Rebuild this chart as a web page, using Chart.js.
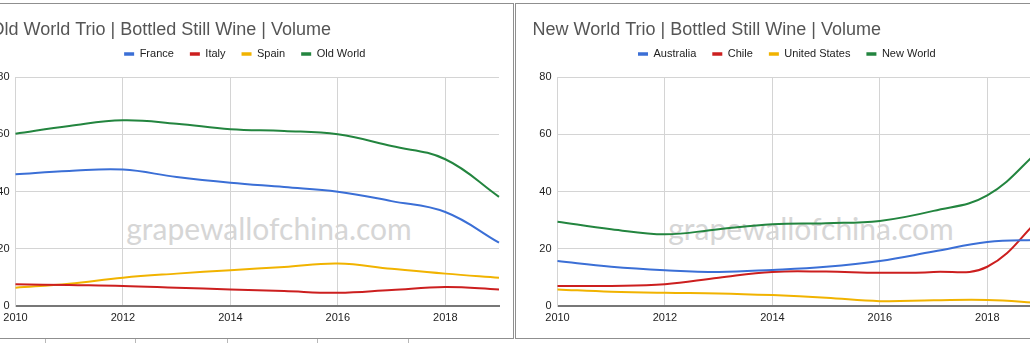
<!DOCTYPE html>
<html>
<head>
<meta charset="utf-8">
<script src="https://cdn.jsdelivr.net/npm/chart.js@4.4.1/dist/chart.umd.min.js"></script>
<style>
  html, body { margin: 0; padding: 0; background: #fff; }
  body { width: 1030px; height: 343px; position: relative; overflow: hidden; }
  .panel {
    position: absolute;
    top: 3px;
    width: 539px;
    height: 334px;
    border: 1px solid #8f8f8f;
  }
  .panel canvas { position: absolute; left: 0; top: 0; }
  .watermark {
    position: absolute;
    left: 295px;
    top: 224px;
    transform: translate(-50%, -50%);
    font: 30px Lato, sans-serif;
    color: #d6d6d6;
    white-space: nowrap;
  }
  .cell { position: absolute; top: 339px; width: 1px; height: 4px; background: #b8b8b8; }
</style>
</head>
<body>
  <div class="panel" style="left:-27px">
    <div class="watermark">grapewallofchina.com</div>
    <canvas id="oldWorldChart" width="539" height="334"></canvas>
  </div>
  <div class="panel" style="left:515px">
    <div class="watermark">grapewallofchina.com</div>
    <canvas id="newWorldChart" width="539" height="334"></canvas>
  </div>
  <div class="cell" style="left:45px"></div>
  <div class="cell" style="left:135px"></div>
  <div class="cell" style="left:227px"></div>
  <div class="cell" style="left:317px"></div>
  <div class="cell" style="left:408px"></div>

<script>
// Share of bottled still wine imports by volume, %
const years = ['2010', '2011', '2012', '2013', '2014', '2015', '2016', '2017', '2018', '2019'];
const xTickYears = ['2010', '2012', '2014', '2016', '2018'];
const yTicks = [0, 20, 40, 60, 80];

const france = [46.1, 47.2, 47.7, 45.1, 43.1, 41.6, 40.0, 36.7, 32.9, 22.2];
const italy = [7.7, 7.4, 7.1, 6.5, 5.9, 5.3, 4.7, 5.7, 6.7, 5.9];
const spain = [6.5, 7.9, 10.0, 11.4, 12.6, 13.7, 14.9, 13.1, 11.4, 10.0];
const oldWorld = [60.2, 62.9, 64.9, 63.7, 61.8, 61.2, 60.0, 55.9, 51.3, 38.2];

const australia = [15.8, 13.8, 12.6, 12.0, 12.7, 13.8, 15.8, 19.1, 22.4, 23.2];
const chile = [7.1, 7.1, 7.7, 10.0, 12.0, 12.1, 11.7, 12.0, 13.8, 31.0];
const unitedStates = [5.9, 5.1, 4.7, 4.5, 3.9, 3.0, 1.8, 2.1, 2.2, 1.2];
const newWorld = [29.5, 26.9, 25.1, 26.9, 28.6, 29.0, 29.8, 33.3, 38.7, 55.0];

const BLUE = '#3b6fd6';
const RED = '#cc1f1f';
const YELLOW = '#f1b300';
const GREEN = '#23853f';
const FONT = "Arial, 'Liberation Sans', sans-serif";
const GRID = '#d4d4d4';

function drawPanel(canvasId, title, series) {
  return new Chart(document.getElementById(canvasId), {
    type: 'line',
    data: {
      labels: years,
      datasets: series.map(s => ({
        label: s.label,
        data: s.data,
        borderColor: s.color,
        backgroundColor: s.color,
        borderWidth: 2,
        pointRadius: 0,
        tension: 0.4,
        fill: false
      }))
    },
    options: {
      responsive: false,
      animation: false,
      events: [],
      layout: { padding: { left: 16.5, right: 14, top: 0, bottom: 8.5 } },
      plugins: {
        title: {
          display: true,
          text: title,
          align: 'start',
          color: '#555',
          font: { family: FONT, size: 18, weight: 'normal', lineHeight: '5px' },
          padding: { top: 23.5, bottom: 0 }
        },
        legend: {
          labels: {
            boxWidth: 10,
            boxHeight: 3.5,
            padding: 16,
            color: '#222',
            font: { family: FONT, size: 11 },
            // flat colour chips, no outline
            generateLabels: chart =>
              Chart.defaults.plugins.legend.labels.generateLabels(chart)
                .map(item => ({ ...item, lineWidth: 0 }))
          }
        },
        // empty subtitle sits under the legend as a small gap
        subtitle: {
          display: true,
          text: '',
          weight: 500,
          padding: { top: 7.5, bottom: 0 },
          font: { lineHeight: 0 }
        },
        tooltip: { enabled: false }
      },
      scales: {
        x: {
          grid: {
            drawTicks: false,
            color: ctx => (xTickYears.includes(years[ctx.index]) ? GRID : 'rgba(0,0,0,0)')
          },
          border: { color: '#777', width: 2 },
          ticks: {
            autoSkip: false,
            maxRotation: 0,
            padding: 5,
            color: '#222',
            font: { family: FONT, size: 11 },
            callback: (v, i) => (xTickYears.includes(years[i]) ? years[i] : '')
          }
        },
        y: {
          min: yTicks[0],
          max: yTicks[yTicks.length - 1],
          afterFit: scale => { scale.width = 25; },
          grid: { drawTicks: false, color: GRID },
          border: { color: GRID },
          ticks: {
            stepSize: yTicks[1] - yTicks[0],
            padding: 6,
            color: '#222',
            font: { family: FONT, size: 11 }
          }
        }
      }
    }
  });
}

drawPanel('oldWorldChart', 'Old World Trio | Bottled Still Wine | Volume', [
  { label: 'France', data: france, color: BLUE },
  { label: 'Italy', data: italy, color: RED },
  { label: 'Spain', data: spain, color: YELLOW },
  { label: 'Old World', data: oldWorld, color: GREEN }
]);

drawPanel('newWorldChart', 'New World Trio | Bottled Still Wine | Volume', [
  { label: 'Australia', data: australia, color: BLUE },
  { label: 'Chile', data: chile, color: RED },
  { label: 'United States', data: unitedStates, color: YELLOW },
  { label: 'New World', data: newWorld, color: GREEN }
]);
</script>
</body>
</html>
